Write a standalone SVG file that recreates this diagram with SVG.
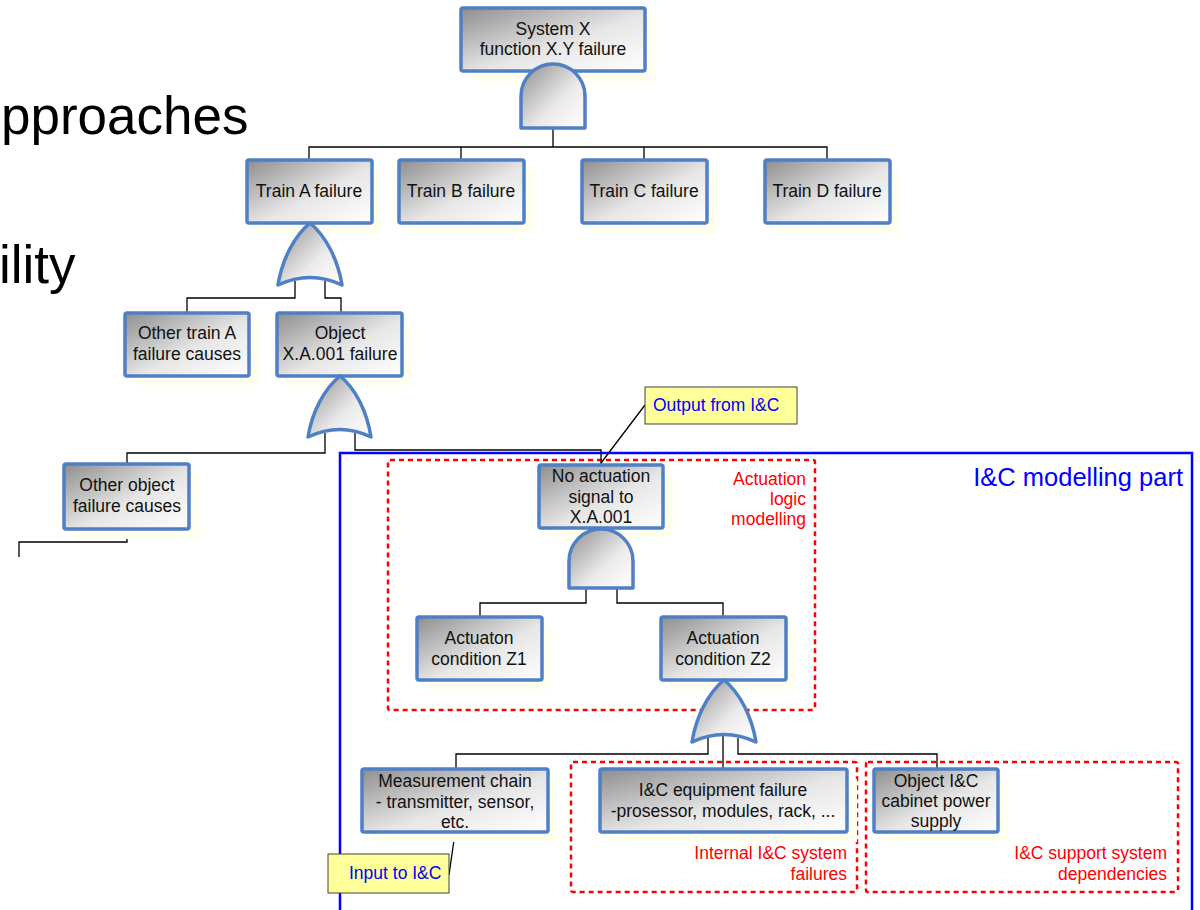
<svg xmlns="http://www.w3.org/2000/svg" width="1200" height="910" viewBox="0 0 1200 910">
<defs>
<linearGradient id="gbox" x1="0" y1="0" x2="1" y2="1">
<stop offset="0" stop-color="#8e8e8e"/>
<stop offset="0.55" stop-color="#e6e6e6"/>
<stop offset="1" stop-color="#ffffff"/>
</linearGradient>
<linearGradient id="ggate" x1="0" y1="0" x2="1" y2="1">
<stop offset="0" stop-color="#8e8e8e"/>
<stop offset="0.6" stop-color="#ebebeb"/>
<stop offset="1" stop-color="#ffffff"/>
</linearGradient>
</defs>
<style>
.box{fill:url(#gbox);stroke:#4f7fc4;stroke-width:3.5}
.shadow{fill:#fffff0;stroke:none}
.gate{fill:url(#ggate);stroke:#4f7fc4;stroke-width:3.5;stroke-linejoin:round}
.t{font-family:"Liberation Sans",Arial,sans-serif;font-size:17.5px;fill:#111;text-anchor:middle}
.red{font-family:"Liberation Sans",Arial,sans-serif;font-size:17.5px;fill:#ff0000;text-anchor:end}
.blue{font-family:"Liberation Sans",Arial,sans-serif;font-size:17.5px;fill:#0000ff}
.conn{fill:none;stroke:#000;stroke-width:1.3}
.dash{fill:none;stroke:#ff0000;stroke-width:2.5;stroke-dasharray:5 4}
.callout{fill:#ffff99;stroke:#404040;stroke-width:1}
.big{font-family:"Liberation Sans",Arial,sans-serif;font-size:53px;fill:#000}
</style>
<rect width="1200" height="910" fill="#ffffff"/>

<g id="background-text">
<text class="big" x="1" y="134">pproaches</text>
<text class="big" x="-1" y="283">ility</text>
</g>

<g id="region-ic">
<rect x="340" y="453" width="852" height="470" fill="none" stroke="#0000ff" stroke-width="2.5"/>
<text x="1183" y="486" font-family="Liberation Sans, Arial, sans-serif" font-size="25.5" fill="#0000ff" text-anchor="end">I&amp;C modelling part</text>
</g>

<g id="region-actuation">
<rect class="dash" x="388" y="460" width="427" height="250" rx="2"/>
<text class="red" x="806" y="485">Actuation</text>
<text class="red" x="806" y="505">logic</text>
<text class="red" x="806" y="525">modelling</text>
</g>
<g id="region-internal">
<rect class="dash" x="571" y="762" width="286" height="130" rx="2"/>
<text class="red" x="847" y="859">Internal I&amp;C system</text>
<text class="red" x="847" y="880">failures</text>
</g>
<g id="region-support">
<rect class="dash" x="866" y="762" width="312" height="130" rx="2"/>
<text class="red" x="1167" y="859">I&amp;C support system</text>
<text class="red" x="1167" y="880">dependencies</text>
</g>

<g id="connectors">
<path class="conn" d="M553,128 V147 M309,160 V147 H827 V160 M461,147 V160 M644,147 V160"/>
<path class="conn" d="M295,281 V298 H187 V313 M325,281 V298 H341 V313"/>
<path class="conn" d="M325,433 V453 H127 V464 M355,433 V450 H601 V465"/>
<path class="conn" d="M127,529 V542 H19 V557"/>
<path class="conn" d="M586,588 V603 H480 V617 M617,588 V603 H723 V617"/>
<path class="conn" d="M708,738 V754 H456 V769 M723,736 V771 M738,738 V754 H937 V769"/>
<path class="conn" d="M645,405 L601,463 M455,833 L449,875"/>
</g>

<g id="n-system">
<rect class="shadow" x="471" y="18" width="184" height="63"/>
<rect class="box" x="461" y="8" width="184" height="63" rx="2"/>
<text class="t" x="553" y="35">System X</text>
<text class="t" x="553" y="55">function X.Y failure</text>
</g>
<g id="gate-and1">
<path class="gate" d="M521,128 V96 A32,32 0 0 1 585,96 V128 Z"/>
</g>

<g id="n-trainA">
<rect class="shadow" x="257" y="170" width="125" height="63"/>
<rect class="box" x="247" y="160" width="125" height="63" rx="2"/>
<text class="t" x="309" y="197">Train A failure</text>
</g>
<g id="n-trainB">
<rect class="shadow" x="409" y="170" width="125" height="63"/>
<rect class="box" x="399" y="160" width="125" height="63" rx="2"/>
<text class="t" x="461" y="197">Train B failure</text>
</g>
<g id="n-trainC">
<rect class="shadow" x="592" y="170" width="125" height="63"/>
<rect class="box" x="582" y="160" width="125" height="63" rx="2"/>
<text class="t" x="644" y="197">Train C failure</text>
</g>
<g id="n-trainD">
<rect class="shadow" x="775" y="170" width="125" height="63"/>
<rect class="box" x="765" y="160" width="125" height="63" rx="2"/>
<text class="t" x="827" y="197">Train D failure</text>
</g>
<g id="gate-or1">
<path class="gate" d="M310,223 C326,236 338,260 342,285 Q310,270 278,285 C282,260 294,236 310,223 Z"/>
</g>

<g id="n-otherA">
<rect class="shadow" x="135" y="323" width="124" height="63"/>
<rect class="box" x="125" y="313" width="124" height="63" rx="2"/>
<text class="t" x="187" y="339">Other train A</text>
<text class="t" x="187" y="360">failure causes</text>
</g>
<g id="n-object">
<rect class="shadow" x="287" y="323" width="125" height="63"/>
<rect class="box" x="277" y="313" width="125" height="63" rx="2"/>
<text class="t" x="340" y="339">Object</text>
<text class="t" x="340" y="360">X.A.001 failure</text>
</g>
<g id="gate-or2">
<path class="gate" d="M340,376 C356,389 367,412 371,437 Q340,422 308,437 C312,412 324,389 340,376 Z"/>
</g>

<g id="n-otherobj">
<rect class="shadow" x="74" y="474" width="125" height="65"/>
<rect class="box" x="64" y="464" width="125" height="65" rx="2"/>
<text class="t" x="127" y="491">Other object</text>
<text class="t" x="127" y="512">failure causes</text>
</g>

<g id="callout-output">
<rect class="callout" x="645" y="387" width="152" height="37"/>
<text class="blue" x="653" y="411">Output from I&amp;C</text>
</g>

<g id="n-noact">
<rect class="shadow" x="549" y="475" width="124" height="63"/>
<rect class="box" x="539" y="465" width="124" height="63" rx="2"/>
<text class="t" x="601" y="482">No actuation</text>
<text class="t" x="601" y="503">signal to</text>
<text class="t" x="601" y="523">X.A.001</text>
</g>
<g id="gate-and2">
<path class="gate" d="M569,588 V561 A32,32 0 0 1 633,561 V588 Z"/>
</g>

<g id="n-z1">
<rect class="shadow" x="427" y="627" width="125" height="63"/>
<rect class="box" x="417" y="617" width="125" height="63" rx="2"/>
<text class="t" x="479" y="644">Actuaton</text>
<text class="t" x="479" y="665">condition Z1</text>
</g>
<g id="n-z2">
<rect class="shadow" x="671" y="627" width="125" height="63"/>
<rect class="box" x="661" y="617" width="125" height="63" rx="2"/>
<text class="t" x="723" y="644">Actuation</text>
<text class="t" x="723" y="665">condition Z2</text>
</g>
<g id="gate-or3">
<path class="gate" d="M724,680 C740,693 752,717 756,742 Q724,727 692,742 C696,717 708,693 724,680 Z"/>
</g>

<g id="n-meas">
<rect class="shadow" x="372" y="779" width="186" height="63"/>
<rect class="box" x="362" y="769" width="186" height="63" rx="2"/>
<text class="t" x="455" y="787">Measurement chain</text>
<text class="t" x="455" y="808">- transmitter, sensor,</text>
<text class="t" x="455" y="828">etc.</text>
</g>
<g id="n-equip">
<rect class="shadow" x="610" y="779" width="247" height="63"/>
<rect class="box" x="600" y="769" width="247" height="63" rx="2"/>
<text class="t" x="723" y="796">I&amp;C equipment failure</text>
<text class="t" x="723" y="817">-prosessor, modules, rack, ...</text>
</g>
<g id="n-power">
<rect class="shadow" x="884" y="779" width="124" height="63"/>
<rect class="box" x="874" y="769" width="124" height="63" rx="2"/>
<text class="t" x="936" y="787">Object I&amp;C</text>
<text class="t" x="936" y="807">cabinet power</text>
<text class="t" x="936" y="827">supply</text>
</g>

<g id="callout-input">
<rect class="callout" x="328" y="854" width="121" height="39"/>
<text class="blue" x="349" y="879">Input to I&amp;C</text>
</g>
</svg>
